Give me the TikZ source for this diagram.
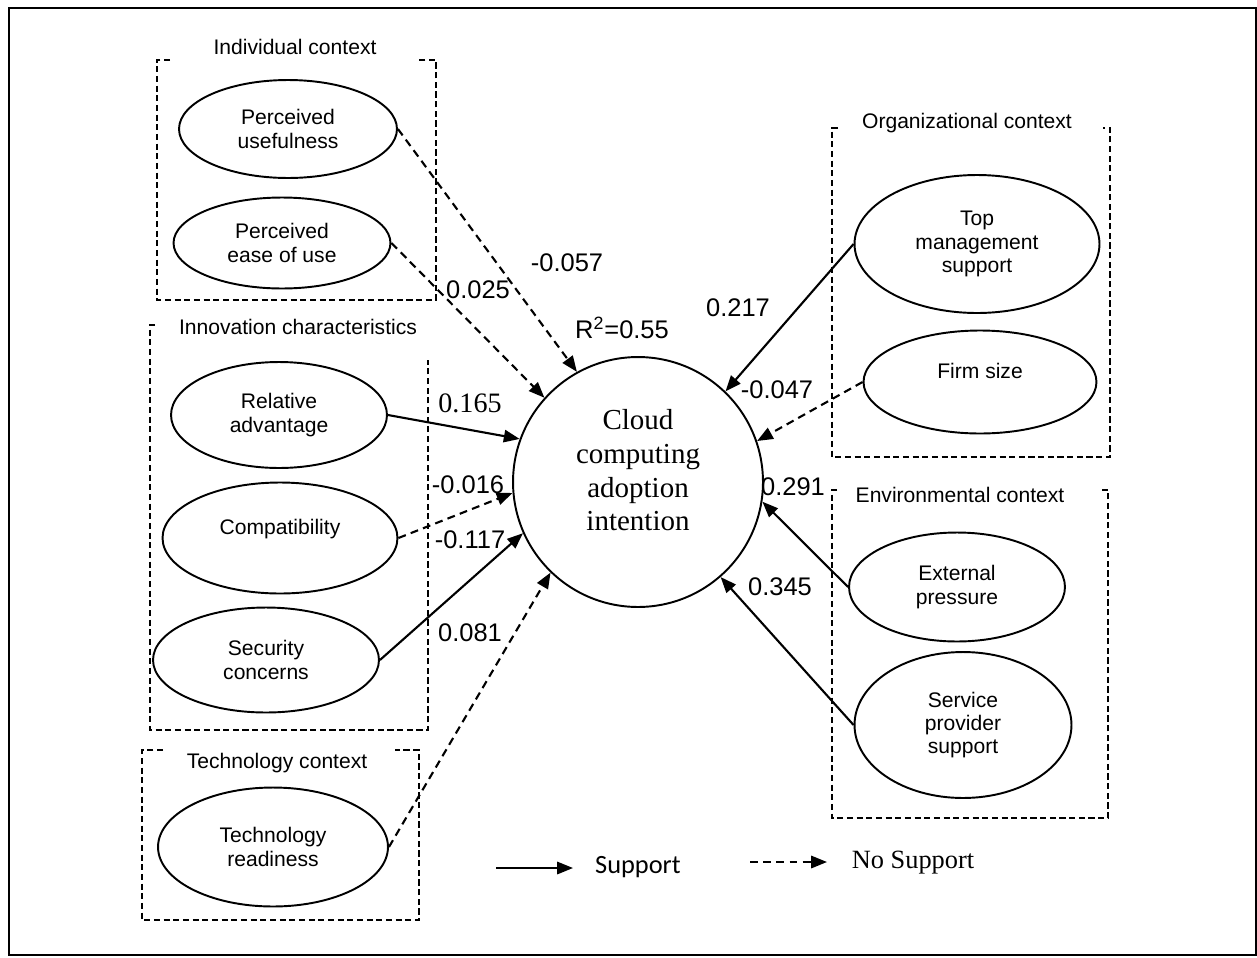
\documentclass[tikz,border=0pt]{standalone}
\usepackage{fontspec}
\setmainfont{Liberation Serif}
\setsansfont{Liberation Sans}
\newfontfamily\calibrifont{Carlito}
\usetikzlibrary{arrows.meta,shapes}

\begin{document}
\begin{tikzpicture}[
        x=0.02cm, y=-0.02cm,
        every node/.style={align=center, inner sep=0pt},
        construct/.style={draw, ellipse, line width=1.1pt, font=\sffamily\fontsize{12}{13.2}\selectfont},
        context/.style={font=\sffamily\fontsize{12}{14}\selectfont},
        group/.style={draw, line width=0.9pt, dash pattern=on 3.5pt off 2pt},
        coef/.style={font=\sffamily\fontsize{14.5}{17}\selectfont},
        support/.style={draw, line width=1.2pt, -{Triangle[length=9pt,width=7pt]}},
        nosupport/.style={support, dash pattern=on 4.5pt off 3pt}
    ]
    \useasboundingbox (0,0) rectangle (1257,957);
    \draw[line width=1.2pt] (9,8) rectangle (1256,955);

    % Context boxes
    \draw[group] (170,60) -- (157,60) -- (157,300) -- (436,300) -- (436,60) -- (418,60);
    \draw[group] (155,325) -- (150,325) -- (150,730) -- (428,730) -- (428,360);
    \draw[group] (163,750) -- (142,750) -- (142,920) -- (419,920) -- (419,750) -- (395,750);
    \draw[group] (838,128) -- (832,128) -- (832,457) -- (1110,457) -- (1110,128) -- (1103,128);
    \draw[group] (837,490) -- (832,490) -- (832,818) -- (1108,818) -- (1108,490) -- (1102,490);

    \node[context] (indiv) at (295,47) {Individual context};
    \node[context] (innov) at (298,327) {Innovation characteristics};
    \node[context] (techc) at (277,763) {Technology context};
    \node[context] (orgc) at (967,123) {Organizational context};
    \node[context] (envc) at (960,495) {Environmental context};

    % Nodes
    \node[draw, circle, line width=1.1pt, minimum size=5cm,
          font=\fontsize{16.5}{19.3}\selectfont] (cc) at (638,482)
          {Cloud\\computing\\adoption\\intention\\[-0.2cm]\mbox{}};

    \node[construct, minimum width=4.36cm, minimum height=1.96cm] (pu) at (288,129) {Perceived\\usefulness};
    \node[construct, minimum width=4.34cm, minimum height=1.82cm] (peu) at (282,243) {Perceived\\ease of use};
    \node[construct, minimum width=4.32cm, minimum height=2.12cm] (ra) at (279,415) {Relative\\advantage};
    \node[construct, minimum width=4.70cm, minimum height=2.22cm] (comp) at (280,538) {Compatibility\\\mbox{}};
    \node[construct, minimum width=4.52cm, minimum height=2.10cm] (sec) at (266,660) {Security\\concerns};
    \node[construct, minimum width=4.60cm, minimum height=2.38cm] (tr) at (273,847) {Technology\\readiness};
    \node[construct, minimum width=4.90cm, minimum height=2.76cm] (tms) at (977,244) {Top\\management\\support};
    \node[construct, minimum width=4.66cm, minimum height=2.06cm] (fs) at (980,382) {Firm size\\\mbox{}};
    \node[construct, minimum width=4.32cm, minimum height=2.18cm] (ep) at (957,587) {External\\pressure};
    \node[construct, minimum width=4.34cm, minimum height=2.92cm] (sps) at (963,725) {Service\\provider\\support};

    % Edges
    \draw[nosupport] (pu.east) -- (cc.119);
    \draw[nosupport] (peu.east) -- (cc.138);
    \draw[support] (ra.east) -- (cc.160);
    \draw[nosupport] (comp.east) -- (cc.185);
    \draw[support] (sec.east) -- (cc.204);
    \draw[nosupport] (tr.east) -- (cc.226);
    \draw[support] (tms.west) -- (cc.46);
    \draw[nosupport] (fs.west) -- (cc.19);
    \draw[support] (ep.west) -- (cc.351);
    \draw[support] (sps.west) -- (cc.311);

    % Path coefficients
    \node[coef] (rsq) at (622,328) {R\textsuperscript{2}=0.55};
    \node[coef] (cpu) at (567,263) {-0.057};
    \node[coef] (cpeu) at (478,290) {0.025};
    \node[coef, font=\fontsize{16}{18}\selectfont] (cra) at (470,403) {0.165};
    \node[coef] (ccomp) at (468,485) {-0.016};
    \node[coef] (csec) at (470,540) {-0.117};
    \node[coef] (ctr) at (470,633) {0.081};
    \node[coef] (ctms) at (738,308) {0.217};
    \node[coef] (cfs) at (777,390) {-0.047};
    \node[coef] (cep) at (793,487) {0.291};
    \node[coef] (csps) at (780,587) {0.345};

    % Legend
    \coordinate (supA) at (496,868);
    \coordinate (supB) at (573,868);
    \coordinate (nosA) at (750,862);
    \coordinate (nosB) at (827,862);
    \draw[support] (supA) -- (supB);
    \draw[nosupport] (nosA) -- (nosB);
    \node[font=\calibrifont\fontsize{15}{18}\selectfont] (supT) at (638,867) {Support};
    \node[font=\fontsize{15}{18}\selectfont] (nosT) at (913,863) {No Support};

\end{tikzpicture}
\end{document}
